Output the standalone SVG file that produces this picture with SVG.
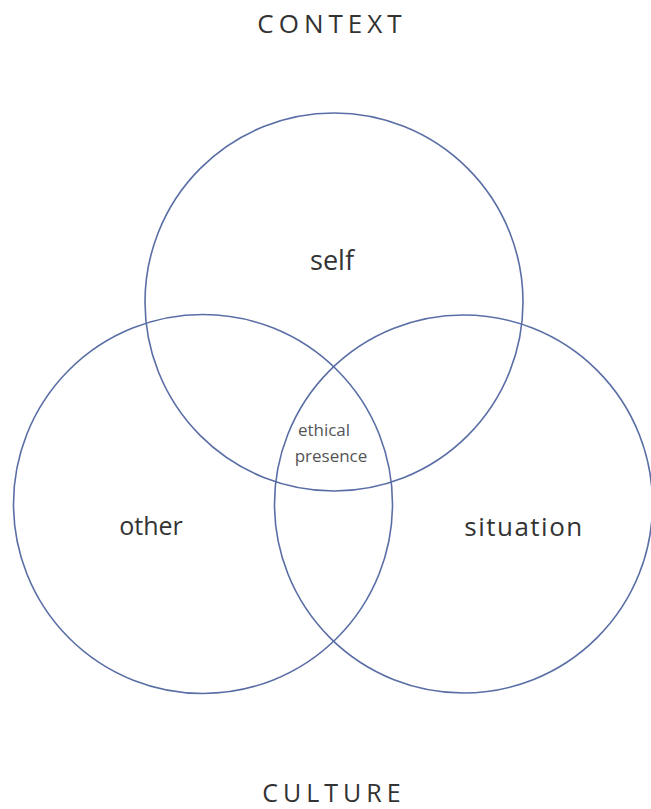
<svg xmlns="http://www.w3.org/2000/svg" width="651" height="809" viewBox="0 0 651 809">
<style>
.c{fill:none;stroke:#5a6ea6;stroke-width:1.6}
.t{font-family:"Open Sans","Liberation Sans",sans-serif;fill:#333;text-anchor:middle}
.s{fill:#555}
</style>
<rect width="651" height="809" fill="#fff"/>
<g id="connectors"></g>
<g id="self"><circle class="c" cx="334" cy="302" r="189"/><text class="t" x="332" y="270" font-size="27">self</text></g>
<g id="other"><circle class="c" cx="203" cy="504" r="189.5"/><text class="t" x="151" y="535" font-size="25">other</text></g>
<g id="situation"><circle class="c" cx="463.5" cy="504" r="189"/><text class="t" x="524" y="536" font-size="26" letter-spacing="1.5">situation</text></g>
<g id="ethical-presence"><text class="t s" x="324" y="436" font-size="17">ethical</text><text class="t s" x="331" y="462" font-size="17">presence</text></g>
<g id="context"><text class="t" x="332" y="33" font-size="26" letter-spacing="5">CONTEXT</text></g>
<g id="culture"><text class="t" x="334" y="802" font-size="25" letter-spacing="5">CULTURE</text></g>
</svg>
